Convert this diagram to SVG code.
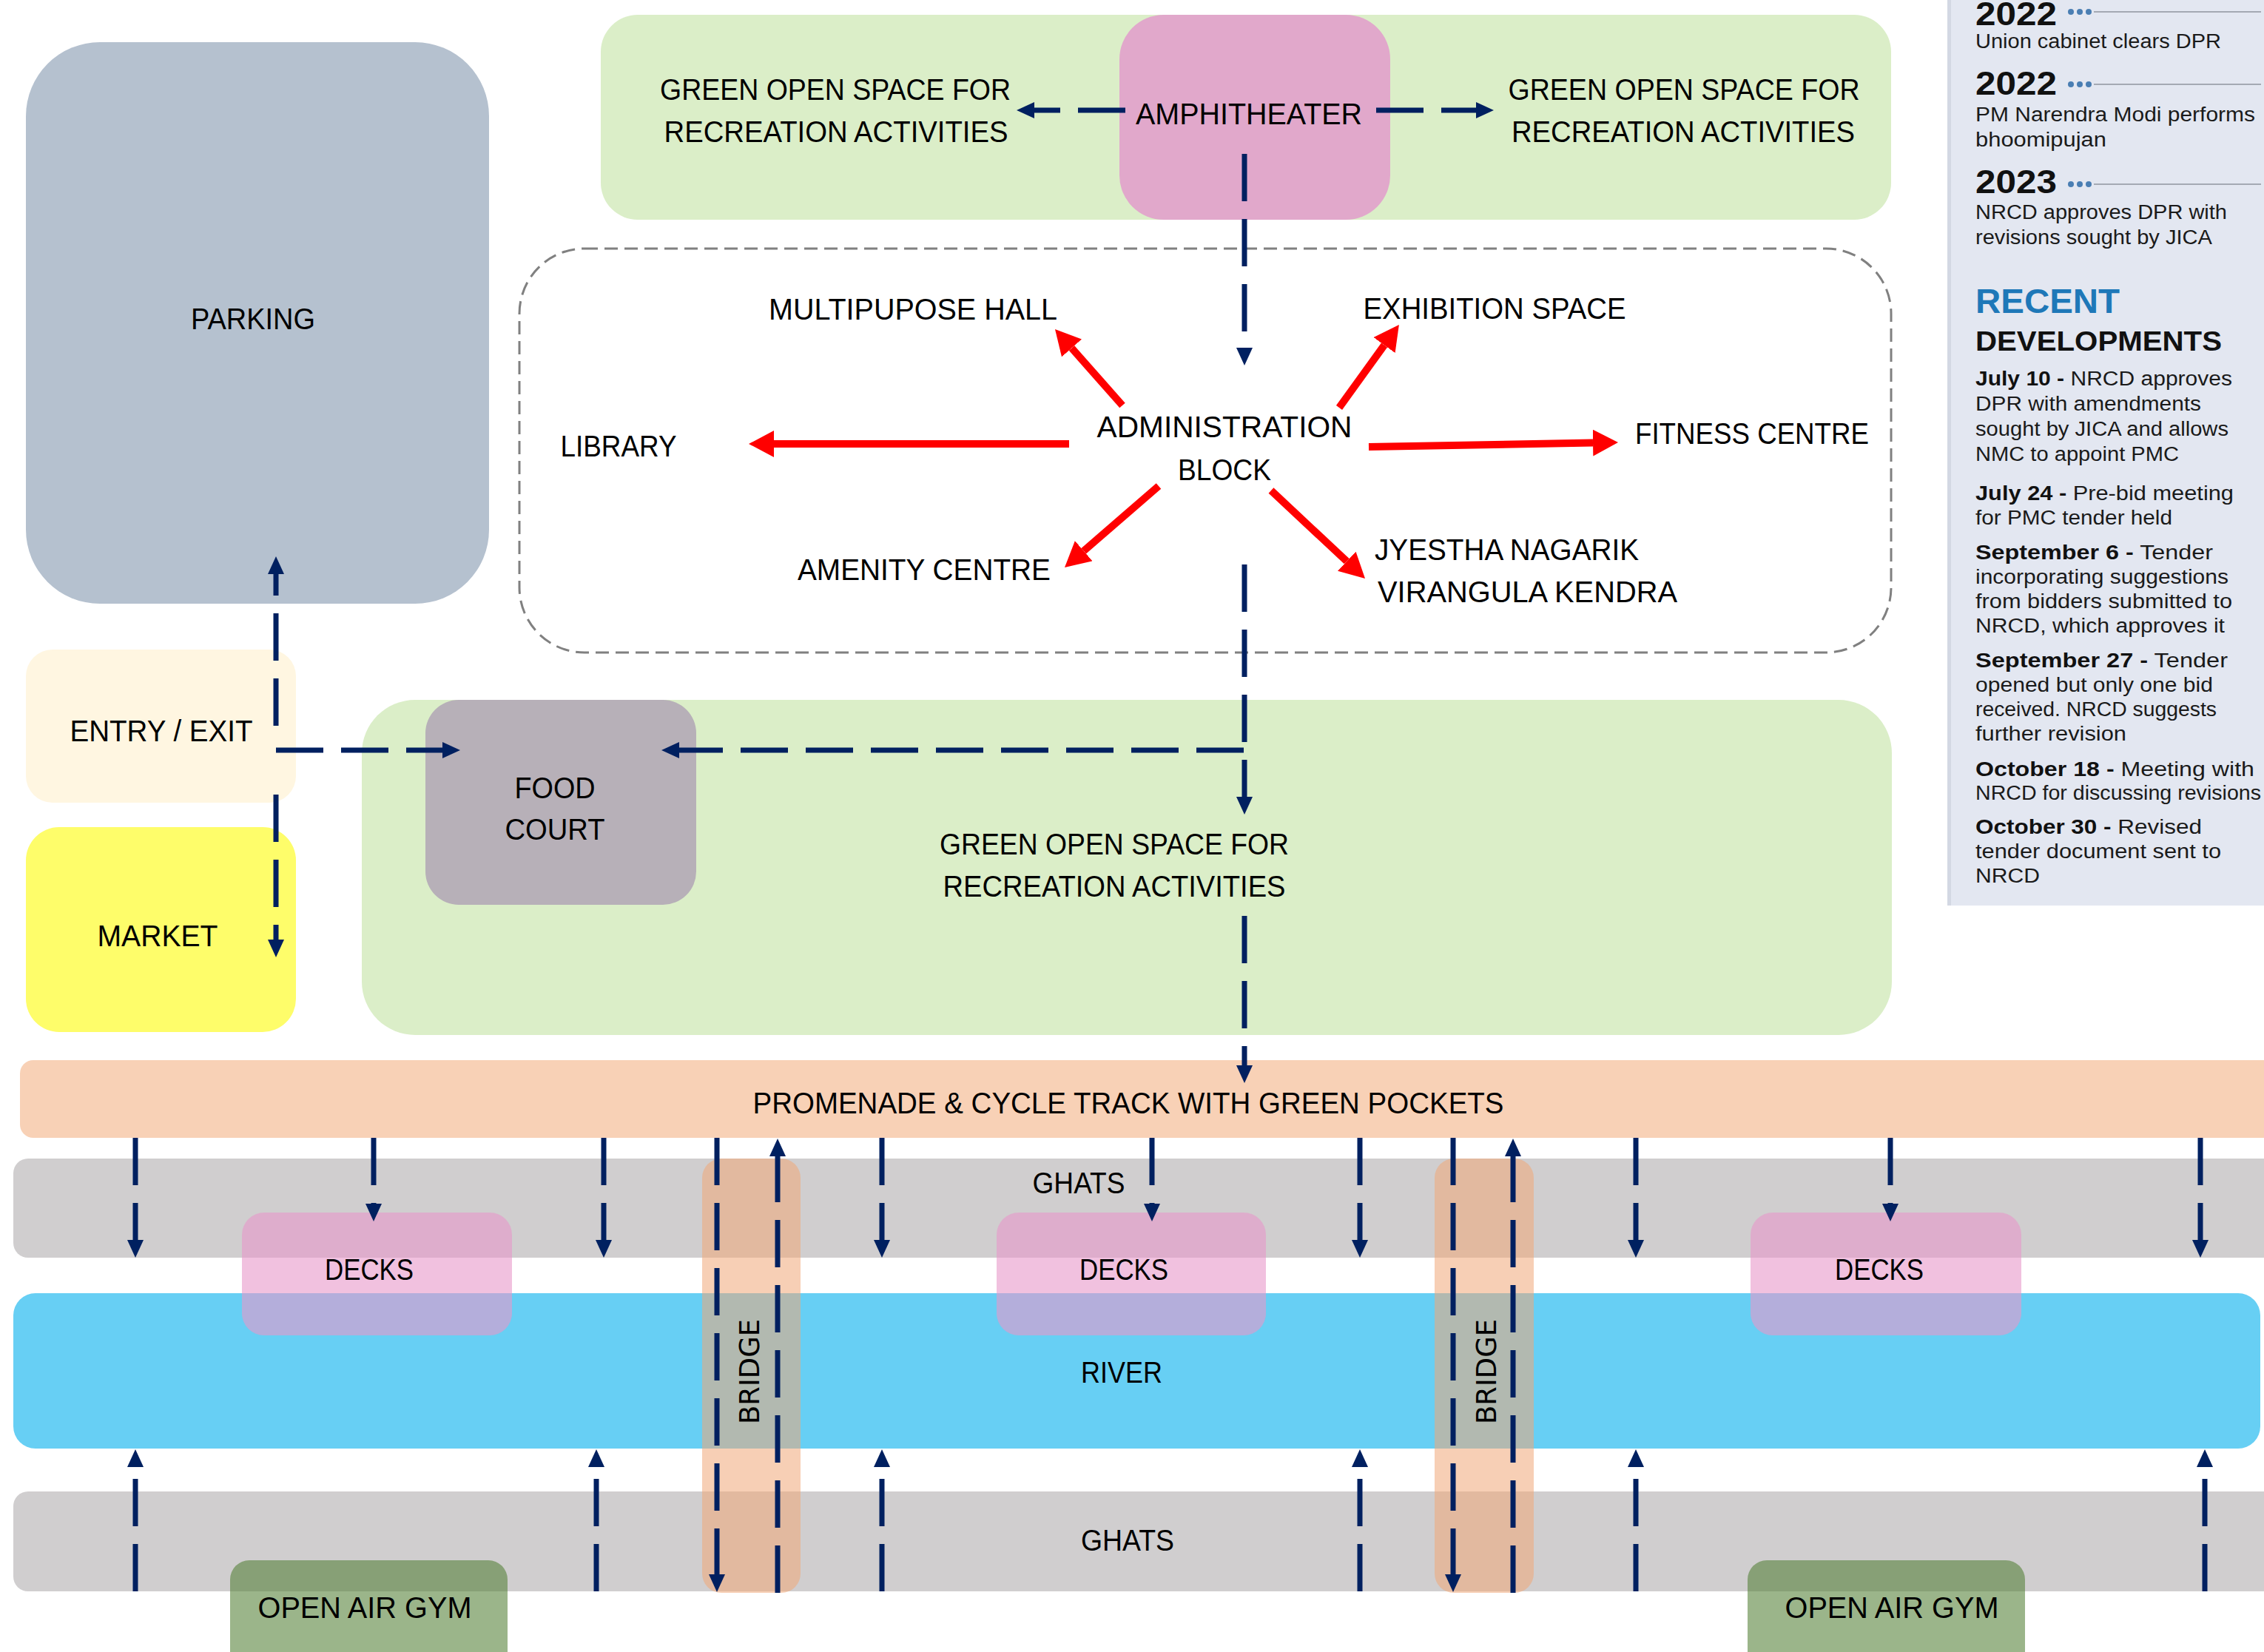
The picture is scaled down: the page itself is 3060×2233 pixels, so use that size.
<svg xmlns="http://www.w3.org/2000/svg" width="3060" height="2233" viewBox="0 0 3060 2233">
<defs>
<style>
.lb{font-family:"Liberation Sans",Arial,sans-serif;font-size:40px;fill:#000;text-anchor:middle}
.ls{font-family:"Liberation Sans",Arial,sans-serif;font-size:40px;fill:#000;text-anchor:start}
.br{font-family:"DejaVu Sans",Verdana,sans-serif;font-size:38px;fill:#000;text-anchor:middle}
.nv{fill:none;stroke:#002060;stroke-width:7;stroke-dasharray:64 24}
.rd{fill:none;stroke:#FF0000;stroke-width:10}
.sb{font-family:"Liberation Sans",Arial,sans-serif;font-size:27px;fill:#1a1a1a}
.yr{font-family:"Liberation Sans",Arial,sans-serif;font-size:44px;font-weight:bold;fill:#111}
</style>
<marker id="nav" markerUnits="userSpaceOnUse" markerWidth="24" markerHeight="22" refX="0" refY="11" orient="auto" viewBox="0 0 24 22"><path d="M0,0 L24,11 L0,22 z" fill="#002060"/></marker>
<marker id="red" markerUnits="userSpaceOnUse" markerWidth="34" markerHeight="36" refX="0" refY="18" orient="auto" viewBox="0 0 34 36"><path d="M0,0 L34,18 L0,36 z" fill="#FF0000"/></marker>
</defs>
<rect width="3060" height="2233" fill="#FFFFFF"/>

<!-- sidebar -->
<g id="sidebar">
<rect x="2632" y="0" width="428" height="1224" fill="#E3E7F1"/>
<rect x="2632" y="0" width="5" height="1224" fill="#D3D8E3"/>
<circle cx="2799" cy="16" r="4" fill="#4A7EB3"/><circle cx="2811" cy="16" r="4" fill="#4A7EB3"/><circle cx="2823" cy="16" r="4" fill="#4A7EB3"/>
<line x1="2830" y1="16" x2="3056" y2="16" stroke="#A4A9B3" stroke-width="2"/>
<circle cx="2799" cy="114" r="4" fill="#4A7EB3"/><circle cx="2811" cy="114" r="4" fill="#4A7EB3"/><circle cx="2823" cy="114" r="4" fill="#4A7EB3"/>
<line x1="2830" y1="114" x2="3056" y2="114" stroke="#A4A9B3" stroke-width="2"/>
<circle cx="2799" cy="249" r="4" fill="#4A7EB3"/><circle cx="2811" cy="249" r="4" fill="#4A7EB3"/><circle cx="2823" cy="249" r="4" fill="#4A7EB3"/>
<line x1="2830" y1="249" x2="3056" y2="249" stroke="#A4A9B3" stroke-width="2"/>
<text class="yr" x="2670" y="34" textLength="110" lengthAdjust="spacingAndGlyphs">2022</text>
<text class="sb" x="2670" y="65" textLength="332" lengthAdjust="spacingAndGlyphs">Union cabinet clears DPR</text>
<text class="yr" x="2670" y="128" textLength="110" lengthAdjust="spacingAndGlyphs">2022</text>
<text class="sb" x="2670" y="164" textLength="378" lengthAdjust="spacingAndGlyphs">PM Narendra Modi performs</text>
<text class="sb" x="2670" y="198" textLength="177" lengthAdjust="spacingAndGlyphs">bhoomipujan</text>
<text class="yr" x="2670" y="261" textLength="110" lengthAdjust="spacingAndGlyphs">2023</text>
<text class="sb" x="2670" y="296" textLength="340" lengthAdjust="spacingAndGlyphs">NRCD approves DPR with</text>
<text class="sb" x="2670" y="330" textLength="320" lengthAdjust="spacingAndGlyphs">revisions sought by JICA</text>
<text x="2670" y="423" textLength="195" lengthAdjust="spacingAndGlyphs" font-family="Liberation Sans, Arial, sans-serif" font-size="46" font-weight="bold" fill="#1E78B8">RECENT</text>
<text x="2670" y="474" textLength="333" lengthAdjust="spacingAndGlyphs" font-family="Liberation Sans, Arial, sans-serif" font-size="37" font-weight="bold" fill="#111">DEVELOPMENTS</text>
<text class="sb" x="2670" y="521" textLength="347" lengthAdjust="spacingAndGlyphs"><tspan font-weight="bold" fill="#111">July 10 -</tspan> NRCD approves</text>
<text class="sb" x="2670" y="555" textLength="305" lengthAdjust="spacingAndGlyphs">DPR with amendments</text>
<text class="sb" x="2670" y="589" textLength="342" lengthAdjust="spacingAndGlyphs">sought by JICA and allows</text>
<text class="sb" x="2670" y="623" textLength="275" lengthAdjust="spacingAndGlyphs">NMC to appoint PMC</text>
<text class="sb" x="2670" y="676" textLength="349" lengthAdjust="spacingAndGlyphs"><tspan font-weight="bold" fill="#111">July 24 -</tspan> Pre-bid meeting</text>
<text class="sb" x="2670" y="709" textLength="266" lengthAdjust="spacingAndGlyphs">for PMC tender held</text>
<text class="sb" x="2670" y="756" textLength="321" lengthAdjust="spacingAndGlyphs"><tspan font-weight="bold" fill="#111">September 6 -</tspan> Tender</text>
<text class="sb" x="2670" y="789" textLength="342" lengthAdjust="spacingAndGlyphs">incorporating suggestions</text>
<text class="sb" x="2670" y="822" textLength="347" lengthAdjust="spacingAndGlyphs">from bidders submitted to</text>
<text class="sb" x="2670" y="855" textLength="337" lengthAdjust="spacingAndGlyphs">NRCD, which approves it</text>
<text class="sb" x="2670" y="902" textLength="341" lengthAdjust="spacingAndGlyphs"><tspan font-weight="bold" fill="#111">September 27 -</tspan> Tender</text>
<text class="sb" x="2670" y="935" textLength="321" lengthAdjust="spacingAndGlyphs">opened but only one bid</text>
<text class="sb" x="2670" y="968" textLength="326" lengthAdjust="spacingAndGlyphs">received. NRCD suggests</text>
<text class="sb" x="2670" y="1001" textLength="204" lengthAdjust="spacingAndGlyphs">further revision</text>
<text class="sb" x="2670" y="1049" textLength="377" lengthAdjust="spacingAndGlyphs"><tspan font-weight="bold" fill="#111">October 18 -</tspan> Meeting with</text>
<text class="sb" x="2670" y="1081" textLength="386" lengthAdjust="spacingAndGlyphs">NRCD for discussing revisions</text>
<text class="sb" x="2670" y="1127" textLength="306" lengthAdjust="spacingAndGlyphs"><tspan font-weight="bold" fill="#111">October 30 -</tspan> Revised</text>
<text class="sb" x="2670" y="1160" textLength="332" lengthAdjust="spacingAndGlyphs">tender document sent to</text>
<text class="sb" x="2670" y="1193" textLength="87" lengthAdjust="spacingAndGlyphs">NRCD</text>
</g>

<!-- nodes -->
<g id="parking"><rect x="35" y="57" width="626" height="759" rx="100" fill="#B5C1CF"/>
<text class="lb" x="342" y="445" textLength="168" lengthAdjust="spacingAndGlyphs">PARKING</text></g>

<g id="green-top"><rect x="812" y="20" width="1744" height="277" rx="50" fill="#DBEEC8"/></g>
<g id="amphitheater"><rect x="1513" y="20" width="366" height="277" rx="60" fill="#E1A8CB"/>
<text class="lb" x="1688" y="168" textLength="306" lengthAdjust="spacingAndGlyphs">AMPHITHEATER</text></g>
<g id="green-left"><text class="lb" x="1129" y="135" textLength="474" lengthAdjust="spacingAndGlyphs">GREEN OPEN SPACE FOR</text>
<text class="lb" x="1130" y="192" textLength="465" lengthAdjust="spacingAndGlyphs">RECREATION ACTIVITIES</text></g>
<g id="green-right"><text class="lb" x="2276" y="135" textLength="475" lengthAdjust="spacingAndGlyphs">GREEN OPEN SPACE FOR</text>
<text class="lb" x="2275" y="192" textLength="464" lengthAdjust="spacingAndGlyphs">RECREATION ACTIVITIES</text></g>

<g id="admin-zone"><rect x="702" y="336" width="1854" height="546" rx="88" fill="none" stroke="#808080" stroke-width="3" stroke-dasharray="18 9"/></g>
<g id="multipurpose"><text class="lb" x="1234" y="432" textLength="390" lengthAdjust="spacingAndGlyphs">MULTIPUPOSE HALL</text></g>
<g id="exhibition"><text class="lb" x="2020" y="431" textLength="355" lengthAdjust="spacingAndGlyphs">EXHIBITION SPACE</text></g>
<g id="library"><text class="lb" x="836" y="617" textLength="157" lengthAdjust="spacingAndGlyphs">LIBRARY</text></g>
<g id="administration"><text class="lb" x="1655" y="591" textLength="345" lengthAdjust="spacingAndGlyphs">ADMINISTRATION</text>
<text class="lb" x="1655" y="649" textLength="126" lengthAdjust="spacingAndGlyphs">BLOCK</text></g>
<g id="fitness"><text class="lb" x="2368" y="600" textLength="316" lengthAdjust="spacingAndGlyphs">FITNESS CENTRE</text></g>
<g id="amenity"><text class="lb" x="1249" y="784" textLength="342" lengthAdjust="spacingAndGlyphs">AMENITY CENTRE</text></g>
<g id="jyestha"><text class="ls" x="1858" y="757" textLength="357" lengthAdjust="spacingAndGlyphs">JYESTHA NAGARIK</text>
<text class="ls" x="1862" y="814" textLength="405" lengthAdjust="spacingAndGlyphs">VIRANGULA KENDRA</text></g>

<g id="entry"><rect x="35" y="878" width="365" height="207" rx="36" fill="#FFF6E1"/>
<text class="lb" x="218" y="1002" textLength="247" lengthAdjust="spacingAndGlyphs">ENTRY / EXIT</text></g>
<g id="market"><rect x="35" y="1118" width="365" height="277" rx="45" fill="#FEFD6A"/>
<text class="lb" x="213" y="1279" textLength="163" lengthAdjust="spacingAndGlyphs">MARKET</text></g>

<g id="green-lower"><rect x="489" y="946" width="2068" height="453" rx="72" fill="#DBEEC8"/>
<text class="lb" x="1506" y="1155" textLength="472" lengthAdjust="spacingAndGlyphs">GREEN OPEN SPACE FOR</text>
<text class="lb" x="1506" y="1212" textLength="463" lengthAdjust="spacingAndGlyphs">RECREATION ACTIVITIES</text></g>
<g id="food-court"><rect x="575" y="946" width="366" height="277" rx="45" fill="#B7B0B8"/>
<text class="lb" x="750" y="1079" textLength="109" lengthAdjust="spacingAndGlyphs">FOOD</text>
<text class="lb" x="750" y="1135" textLength="135" lengthAdjust="spacingAndGlyphs">COURT</text></g>

<g id="promenade"><rect x="27" y="1433" width="3060" height="105" rx="18" fill="#F8D1B6"/>
<text class="lb" x="1525" y="1505" textLength="1015" lengthAdjust="spacingAndGlyphs">PROMENADE &amp; CYCLE TRACK WITH GREEN POCKETS</text></g>
<g id="ghats-top"><rect x="18" y="1566" width="3070" height="134" rx="20" fill="#D0CECF"/>
<text class="lb" x="1458" y="1613" textLength="125" lengthAdjust="spacingAndGlyphs">GHATS</text></g>
<g id="river"><rect x="18" y="1748" width="3037" height="210" rx="30" fill="#67CFF4"/>
<text class="lb" x="1516" y="1869" textLength="110" lengthAdjust="spacingAndGlyphs">RIVER</text></g>
<g id="ghats-bottom"><rect x="18" y="2016" width="3070" height="135" rx="20" fill="#D0CECF"/>
<text class="lb" x="1524" y="2096" textLength="126" lengthAdjust="spacingAndGlyphs">GHATS</text></g>

<g id="decks-1"><rect x="327" y="1639" width="365" height="166" rx="30" fill="#E897C9" fill-opacity="0.6"/>
<text class="lb" x="499" y="1730" textLength="120" lengthAdjust="spacingAndGlyphs">DECKS</text></g>
<g id="decks-2"><rect x="1347" y="1639" width="364" height="166" rx="30" fill="#E897C9" fill-opacity="0.6"/>
<text class="lb" x="1519" y="1730" textLength="120" lengthAdjust="spacingAndGlyphs">DECKS</text></g>
<g id="decks-3"><rect x="2366" y="1639" width="366" height="166" rx="30" fill="#E897C9" fill-opacity="0.6"/>
<text class="lb" x="2540" y="1730" textLength="120" lengthAdjust="spacingAndGlyphs">DECKS</text></g>

<g id="bridge-1"><rect x="949" y="1566" width="133" height="587" rx="26" fill="#F1A878" fill-opacity="0.55"/>
<text class="br" transform="translate(1026,1854) rotate(-90)" x="0" y="0" textLength="142" lengthAdjust="spacingAndGlyphs">BRIDGE</text></g>
<g id="bridge-2"><rect x="1939" y="1566" width="134" height="587" rx="26" fill="#F1A878" fill-opacity="0.55"/>
<text class="br" transform="translate(2022,1854) rotate(-90)" x="0" y="0" textLength="142" lengthAdjust="spacingAndGlyphs">BRIDGE</text></g>

<g id="gym-1"><rect x="311" y="2109" width="375" height="160" rx="26" fill="#527F34" fill-opacity="0.575"/>
<text class="lb" x="493" y="2187" textLength="289" lengthAdjust="spacingAndGlyphs">OPEN AIR GYM</text></g>
<g id="gym-2"><rect x="2362" y="2109" width="375" height="160" rx="26" fill="#527F34" fill-opacity="0.575"/>
<text class="lb" x="2557" y="2187" textLength="289" lengthAdjust="spacingAndGlyphs">OPEN AIR GYM</text></g>

<!-- connectors -->
<g id="connectors">
<g class="red-arrows">
<line class="rd" x1="1517" y1="548" x2="1448.5" y2="470.5" marker-end="url(#red)"/>
<line class="rd" x1="1810" y1="551" x2="1871" y2="466.5" marker-end="url(#red)"/>
<line class="rd" x1="1445" y1="600" x2="1046" y2="600" marker-end="url(#red)"/>
<line class="rd" x1="1850" y1="604" x2="2153" y2="598.6" marker-end="url(#red)"/>
<line class="rd" x1="1566" y1="657" x2="1464.7" y2="744.7" marker-end="url(#red)"/>
<line class="rd" x1="1718" y1="663" x2="1820.2" y2="758.7" marker-end="url(#red)"/>
</g>
<g class="navy-arrows">
<path class="nv" d="M1521,149 L1398,149" marker-end="url(#nav)"/>
<path class="nv" d="M1860,149 L1995,149" marker-end="url(#nav)"/>
<path class="nv" d="M1682,208 L1682,470" marker-end="url(#nav)"/>
<path class="nv" d="M1682,763 L1682,1077" marker-end="url(#nav)"/>
<path class="nv" d="M1681,1014 L918,1014" marker-end="url(#nav)"/>
<path class="nv" d="M1682,1238 L1682,1440" marker-end="url(#nav)"/>
<path class="nv" d="M373,1014 L598,1014" marker-end="url(#nav)"/>
<path class="nv" d="M373,981 L373,776" marker-end="url(#nav)"/>
<path class="nv" d="M373,1074 L373,1270" marker-end="url(#nav)"/>

<path class="nv" d="M183,1538 L183,1676" marker-end="url(#nav)"/>
<path class="nv" d="M505,1538 L505,1627" marker-end="url(#nav)"/>
<path class="nv" d="M816,1538 L816,1676" marker-end="url(#nav)"/>
<path class="nv" d="M1192,1538 L1192,1676" marker-end="url(#nav)"/>
<path class="nv" d="M1557,1538 L1557,1627" marker-end="url(#nav)"/>
<path class="nv" d="M1838,1538 L1838,1676" marker-end="url(#nav)"/>
<path class="nv" d="M2211,1538 L2211,1676" marker-end="url(#nav)"/>
<path class="nv" d="M2555,1538 L2555,1627" marker-end="url(#nav)"/>
<path class="nv" d="M2974,1538 L2974,1676" marker-end="url(#nav)"/>

<path class="nv" d="M183,2151 L183,1983" marker-end="url(#nav)"/>
<path class="nv" d="M806,2151 L806,1983" marker-end="url(#nav)"/>
<path class="nv" d="M1192,2151 L1192,1983" marker-end="url(#nav)"/>
<path class="nv" d="M1838,2151 L1838,1983" marker-end="url(#nav)"/>
<path class="nv" d="M2211,2151 L2211,1983" marker-end="url(#nav)"/>
<path class="nv" d="M2980,2151 L2980,1983" marker-end="url(#nav)"/>

<path class="nv" d="M969,1538 L969,2128" marker-end="url(#nav)"/>
<path class="nv" d="M1051,2153 L1051,1563" marker-end="url(#nav)"/>
<path class="nv" d="M1964,1538 L1964,2128" marker-end="url(#nav)"/>
<path class="nv" d="M2045,2153 L2045,1563" marker-end="url(#nav)"/>
</g>
</g>
</svg>
